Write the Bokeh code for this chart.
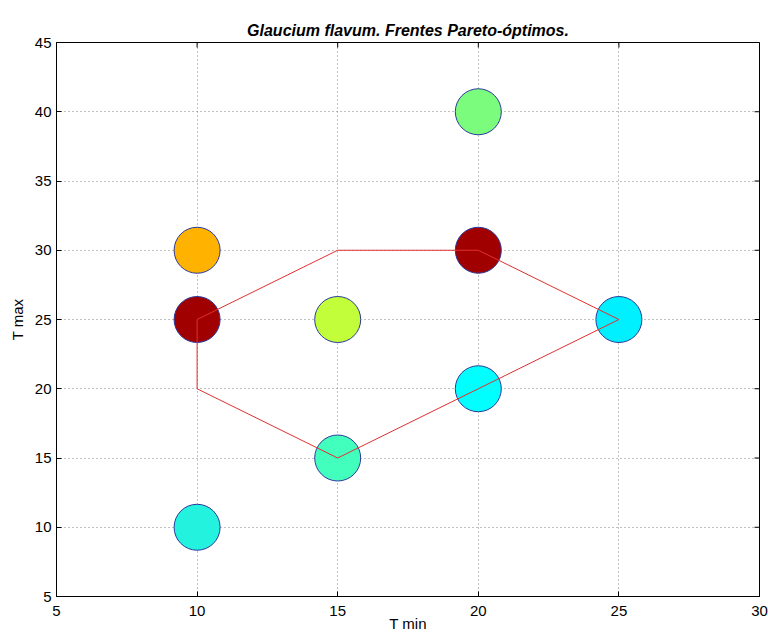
import math
from bokeh.plotting import figure
from bokeh.models import FixedTicker
from bokeh.embed import file_html
from bokeh.resources import INLINE

# Data
t_min = [10, 10, 10, 15, 15, 20, 20, 20, 25]
t_max = [30, 25, 10, 25, 15, 40, 30, 20, 25]
colors = ["#FFB300", "#A00000", "#22F2DE", "#C2FF3A", "#42FFBD",
          "#7CFC7C", "#A00000", "#00FFFF", "#00F0FF"]

front_x = [10, 15, 20, 25, 20, 15, 10, 10]
front_y = [25, 30, 30, 25, 20, 15, 20, 25]

x_ticks = [5, 10, 15, 20, 25, 30]
y_ticks = [5, 10, 15, 20, 25, 30, 35, 40, 45]

FONT = "Liberation Sans"
X0, X1 = x_ticks[0], x_ticks[-1]
Y0, Y1 = y_ticks[0], y_ticks[-1]

p = figure(width=768, height=635, x_range=(X0, X1), y_range=(Y0, Y1),
           output_backend="svg", toolbar_location=None,
           min_border_left=56, min_border_right=9,
           min_border_top=42, min_border_bottom=39)

p.title.text = "Glaucium flavum. Frentes Pareto-óptimos."
p.title.align = "center"
p.title.text_font = FONT
p.title.text_font_style = "bold italic"
p.title.text_font_size = "16px"
p.title.text_color = "black"
p.title.standoff = 8

p.background_fill_color = "white"
p.border_fill_color = "white"
p.outline_line_color = "black"
p.outline_line_width = 1

for ax, ticks in ((p.xaxis[0], x_ticks), (p.yaxis[0], y_ticks)):
    ax.ticker = FixedTicker(ticks=ticks)
    ax.major_tick_in = 5
    ax.major_tick_out = 0
    ax.minor_tick_line_color = None
    ax.axis_line_color = "black"
    ax.major_tick_line_color = "black"
    ax.major_label_text_font = FONT
    ax.major_label_text_font_size = "15px"
    ax.major_label_text_color = "black"
    ax.axis_label_text_font = FONT
    ax.axis_label_text_font_size = "15px"
    ax.axis_label_text_font_style = "normal"
    ax.axis_label_text_color = "black"

p.xaxis.major_label_standoff = 9
p.xaxis.axis_label_standoff = -4
p.yaxis.major_label_standoff = 5
p.yaxis.axis_label_standoff = 6

p.xaxis.axis_label = "T min"
p.yaxis.axis_label = "T max"

p.xgrid.ticker = FixedTicker(ticks=x_ticks)
p.ygrid.ticker = FixedTicker(ticks=y_ticks)
p.grid.grid_line_color = "#808080"
p.grid.grid_line_dash = "1 3"
p.grid.grid_line_width = 1

# inward tick marks on the top and right edges of the box
p.scatter(x_ticks, [Y1] * len(x_ticks), marker="dash", angle=math.pi / 2,
          size=10, line_color="black", line_width=1)
p.scatter([X1] * len(y_ticks), y_ticks, marker="dash",
          size=10, line_color="black", line_width=1)

p.scatter(t_min, t_max, marker="circle", size=46, fill_color=colors,
          line_color="#2b3a9c", line_width=1)
p.line(front_x, front_y, line_color="#E03030", line_width=1)

open("out.html", "w").write(file_html(p, INLINE))
